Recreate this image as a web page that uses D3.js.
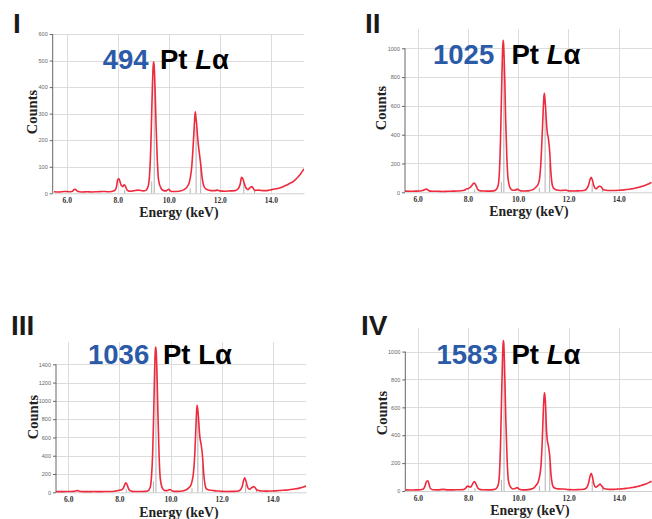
<!DOCTYPE html>
<html>
<head>
<meta charset="utf-8">
<script src="https://cdn.jsdelivr.net/npm/d3@7"></script>
<style>
  html, body { margin: 0; padding: 0; background: #fff; }
  svg { display: block; }
</style>
</head>
<body>
<svg id="chart" width="652" height="519"></svg>
<script>
// ---- data ----
const energy = [
  5.5, 5.7, 5.9, 6.1, 6.2, 6.25, 6.3, 6.35, 6.4, 6.45,
  6.5, 6.6, 6.8, 7.0, 7.2, 7.4, 7.6, 7.8, 7.9, 7.95,
  8.0, 8.05, 8.1, 8.15, 8.2, 8.25, 8.3, 8.35, 8.4, 8.5,
  8.6, 8.8, 9.0, 9.1, 9.2, 9.25, 9.3, 9.33, 9.36, 9.38,
  9.4, 9.42, 9.44, 9.47, 9.5, 9.55, 9.6, 9.7, 9.8, 9.9,
  9.95, 10.0, 10.05, 10.1, 10.2, 10.4, 10.6, 10.7, 10.8, 10.85,
  10.9, 10.95, 11.0, 11.02, 11.04, 11.06, 11.09, 11.12, 11.15, 11.2,
  11.25, 11.3, 11.35, 11.4, 11.5, 11.6, 11.7, 11.8, 11.9, 12.0,
  12.2, 12.4, 12.6, 12.7, 12.8, 12.85, 12.9, 12.95, 13.0, 13.05,
  13.1, 13.15, 13.2, 13.25, 13.3, 13.35, 13.4, 13.5, 13.6, 13.7,
  13.8, 13.9, 14.0, 14.1, 14.2, 14.3, 14.4, 14.5, 14.6, 14.7,
  14.8, 14.9, 15.0, 15.1, 15.2, 15.3
];
const countsI = [
  6, 5, 7, 6, 7, 10, 15, 14, 9, 7,
  6, 5, 6, 5, 6, 7, 6, 8, 12, 25,
  52, 55, 40, 28, 25, 32, 27, 15, 10, 8,
  9, 12, 9, 11, 30, 75, 190, 300, 410, 465,
  495, 488, 455, 370, 260, 125, 50, 18, 10, 9,
  13, 15, 10, 7, 7, 8, 14, 22, 40, 62,
  100, 170, 255, 290, 307, 288, 262, 225, 190, 150,
  110, 65, 35, 22, 14, 11, 10, 10, 12, 9,
  8, 9, 10, 15, 35, 60, 55, 40, 25, 17,
  14, 18, 22, 25, 20, 13, 11, 12, 11, 10,
  10, 11, 13, 15, 17, 19, 22, 26, 30, 35,
  40, 46, 55, 65, 78, 92
];
const countsII = [
  8, 7, 8, 9, 12, 16, 20, 22, 18, 12,
  8, 7, 7, 6, 7, 8, 9, 12, 18, 25,
  25, 30, 35, 45, 58, 65, 55, 35, 18, 10,
  9, 8, 10, 14, 45, 130, 380, 620, 860, 990,
  1055, 1030, 940, 760, 520, 240, 90, 25, 14, 15,
  22, 20, 14, 10, 9, 10, 20, 35, 60, 95,
  200, 380, 590, 660, 688, 655, 585, 495, 425, 375,
  290, 140, 55, 30, 18, 14, 12, 14, 16, 10,
  9, 10, 12, 20, 50, 85, 104, 85, 50, 30,
  25, 32, 40, 42, 38, 25, 18, 14, 12, 12,
  12, 13, 14, 15, 17, 19, 21, 24, 27, 31,
  35, 40, 46, 52, 60, 68
];
const countsIII = [
  8, 7, 8, 9, 10, 12, 15, 18, 16, 10,
  8, 7, 7, 8, 7, 8, 9, 12, 16, 20,
  22, 25, 30, 45, 75, 105, 85, 45, 20, 10,
  9, 8, 10, 14, 50, 150, 420, 720, 1100, 1350,
  1530, 1590, 1540, 1300, 950, 430, 150, 35, 18, 20,
  30, 28, 18, 12, 10, 12, 25, 45, 80, 130,
  220, 420, 760, 880, 952, 920, 830, 700, 600, 520,
  400, 200, 80, 40, 25, 22, 18, 15, 14, 10,
  9, 10, 12, 20, 60, 120, 158, 125, 70, 40,
  35, 45, 55, 62, 52, 35, 22, 16, 14, 13,
  13, 14, 15, 16, 18, 20, 22, 24, 27, 30,
  34, 38, 43, 50, 58, 68
];
const countsIV = [
  8, 7, 8, 9, 12, 22, 45, 70, 74, 45,
  18, 9, 8, 12, 8, 8, 9, 10, 20, 32,
  35, 30, 28, 40, 58, 67, 55, 35, 18, 10,
  9, 8, 10, 14, 45, 130, 400, 650, 880, 1010,
  1080, 1060, 960, 760, 520, 240, 80, 25, 14, 20,
  25, 18, 12, 9, 8, 10, 20, 40, 70, 110,
  180, 350, 600, 670, 705, 680, 590, 440, 370, 320,
  250, 120, 50, 28, 18, 15, 14, 14, 12, 10,
  9, 10, 12, 20, 60, 105, 127, 100, 55, 32,
  28, 35, 42, 50, 40, 28, 18, 14, 12, 12,
  12, 13, 14, 15, 17, 19, 21, 24, 27, 31,
  35, 40, 46, 52, 60, 70
];
// grey element marker lines
const markerEnergy = [8.27, 9.33, 9.43, 10.84, 11.07, 11.25, 12.94, 13.36];
const markersI   = [12, 45, 470, 18, 250, 120, 40, 15];
const markersII  = [20, 70, 900, 30, 560, 200, 60, 25];
const markersIII = [30, 120, 1400, 45, 820, 300, 90, 35];
const markersIV  = [20, 80, 950, 35, 600, 200, 70, 25];

const xTicks = [6, 8, 10, 12, 14];
const yTicksI = [0, 100, 200, 300, 400, 500, 600];
const yTicksII = [0, 200, 400, 600, 800, 1000];
const yTicksIII = [0, 200, 400, 600, 800, 1000, 1200, 1400];
const yTicksIV = [0, 200, 400, 600, 800, 1000];
const panelLabels = ["I", "II", "III", "IV"];
const peakLabels = ["494", "1025", "1036", "1583"];
const lineNames = ["Pt Lα", "Pt Lα", "Pt Lα", "Pt Lα"];
const italicL = [true, true, false, true];
const xTitle = "Energy (keV)";
const yTitle = "Counts";

// ---- layout ----
const panels = [
  { counts: countsI, markers: markersI, yTicks: yTicksI, yMax: 600,
    x0: 52.7, x1: 304, y0: 193.3, y1: 34, xDom: [5.45, 15.3],
    lab: [13, 33], num: [102.7, 69.3], name: [160, 69.3],
    yt: [32, 112], xt: [179, 216.5] },
  { counts: countsII, markers: markersII, yTicks: yTicksII, yMax: 1134,
    x0: 405, x1: 652, y0: 192.3, y1: 29, xDom: [5.5, 15.32],
    lab: [365, 33], num: [433, 63.5], name: [511.5, 63.5],
    yt: [381, 108], xt: [529, 215.5] },
  { counts: countsIII, markers: markersIII, yTicks: yTicksIII, yMax: 1644,
    x0: 56, x1: 306, y0: 492.3, y1: 342, xDom: [5.52, 15.3],
    lab: [11, 335], num: [88, 363.5], name: [163, 363.5],
    yt: [33, 417], xt: [179, 516.5] },
  { counts: countsIV, markers: markersIV, yTicks: yTicksIV, yMax: 1167,
    x0: 405.3, x1: 652, y0: 491, y1: 328.3, xDom: [5.5, 15.32],
    lab: [361, 335], num: [436.5, 363.5], name: [511.5, 363.5],
    yt: [382, 413], xt: [530, 515] }
];

const svg = d3.select("#chart");
const defs = svg.append("defs");

panels.forEach((p, i) => {
  const x = d3.scaleLinear().domain(p.xDom).range([p.x0, p.x1]);
  const y = d3.scaleLinear().domain([0, p.yMax]).range([p.y0, p.y1]);
  const g = svg.append("g");

  defs.append("clipPath").attr("id", "clip" + i)
    .append("rect").attr("x", p.x0).attr("y", p.y1)
    .attr("width", p.x1 - p.x0).attr("height", p.y0 - p.y1 + 1);

  // grid
  g.append("g").selectAll("line.h").data(p.yTicks.filter(v => v > 0)).join("line")
    .attr("x1", p.x0).attr("x2", p.x1)
    .attr("y1", d => Math.round(y(d)) + 0.5).attr("y2", d => Math.round(y(d)) + 0.5)
    .attr("stroke", "#dcdcdc").attr("stroke-width", 1);
  g.append("g").selectAll("line.v").data(xTicks).join("line")
    .attr("y1", p.y1).attr("y2", p.y0)
    .attr("x1", d => Math.round(x(d)) + 0.5).attr("x2", d => Math.round(x(d)) + 0.5)
    .attr("stroke", "#dcdcdc").attr("stroke-width", 1);

  // bottom axis
  const xa = g.append("g").attr("transform", `translate(0,${p.y0})`)
    .call(d3.axisBottom(x).tickValues(xTicks).tickFormat(d3.format(".1f")).tickSize(0).tickPadding(4.5));
  xa.select(".domain").attr("stroke", "#cfcfcf");
  xa.selectAll("text").attr("font-family", "'Liberation Serif', 'DejaVu Serif', serif")
    .attr("font-weight", "bold").attr("font-size", "7.5px").attr("fill", "#333");

  // left axis
  const ya = g.append("g").attr("transform", `translate(${p.x0},0)`)
    .call(d3.axisLeft(y).tickValues(p.yTicks).tickFormat(d3.format("d")).tickSize(3).tickPadding(2));
  ya.select(".domain").attr("stroke", "#666").attr("d", `M0,${p.y0}V${y(p.yTicks[p.yTicks.length - 1])}`);
  ya.selectAll(".tick line").attr("stroke", "#666");
  ya.selectAll("text").attr("font-family", "'Liberation Sans', Arial, sans-serif")
    .attr("font-size", "5.5px").attr("fill", "#666");

  // marker lines
  const plot = g.append("g").attr("clip-path", `url(#clip${i})`);
  plot.selectAll("line.m").data(markerEnergy.map((e, k) => [e, p.markers[k]])).join("line")
    .attr("x1", d => x(d[0])).attr("x2", d => x(d[0]))
    .attr("y1", y(0)).attr("y2", d => y(d[1]))
    .attr("stroke", "#b0b0b0").attr("stroke-width", 1);

  // spectrum
  const line = d3.line().x(d => x(d[0])).y(d => y(d[1])).curve(d3.curveMonotoneX);
  plot.append("path").datum(energy.map((e, k) => [e, p.counts[k]]))
    .attr("d", line).attr("fill", "none")
    .attr("stroke", "#ee2a3c").attr("stroke-width", 1.6).attr("stroke-linejoin", "round");

  // titles
  g.append("text").attr("x", p.yt[0]).attr("y", p.yt[1])
    .attr("transform", `rotate(-90,${p.yt[0]},${p.yt[1]})`)
    .attr("text-anchor", "middle").attr("dominant-baseline", "central")
    .attr("font-family", "'Liberation Serif', 'Times New Roman', serif")
    .attr("font-weight", "bold").attr("font-size", "14.5px").attr("fill", "#222")
    .text(yTitle);
  g.append("text").attr("x", p.xt[0]).attr("y", p.xt[1])
    .attr("text-anchor", "middle")
    .attr("font-family", "'Liberation Serif', 'Times New Roman', serif")
    .attr("font-weight", "bold").attr("font-size", "13.8px").attr("fill", "#222")
    .text(xTitle);

  // panel label
  g.append("text").attr("x", p.lab[0]).attr("y", p.lab[1])
    .attr("font-family", "'Liberation Sans', Arial, sans-serif")
    .attr("font-weight", "bold").attr("font-size", "28px").attr("fill", "#1a1a1a")
    .text(panelLabels[i]);

  // peak count & line name
  g.append("text").attr("x", p.num[0]).attr("y", p.num[1])
    .attr("font-family", "'Liberation Sans', Arial, sans-serif")
    .attr("font-weight", "bold").attr("font-size", "27.5px").attr("fill", "#2a5aa8")
    .text(peakLabels[i]);
  const nm = g.append("text").attr("x", p.name[0]).attr("y", p.name[1])
    .attr("font-family", "'Liberation Sans', Arial, sans-serif")
    .attr("font-weight", "bold").attr("font-size", "27.5px").attr("fill", "#000");
  const parts = lineNames[i].split(" ");
  nm.append("tspan").text(parts[0] + " ");
  nm.append("tspan").attr("font-style", italicL[i] ? "italic" : "normal").text(parts[1][0]);
  nm.append("tspan").text(parts[1].slice(1));
});
</script>
</body>
</html>
